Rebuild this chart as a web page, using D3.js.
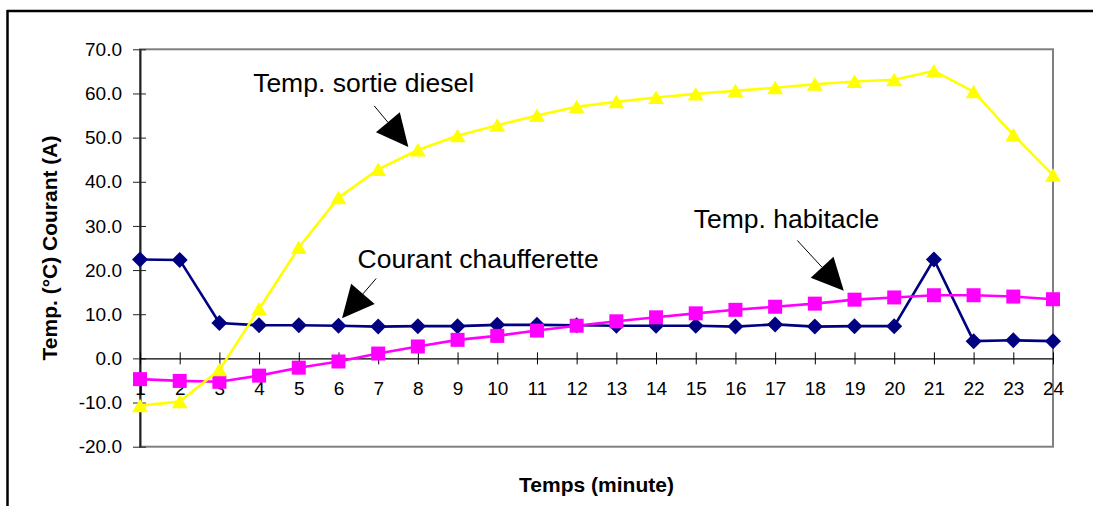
<!DOCTYPE html>
<html>
<head>
<meta charset="utf-8">
<script src="https://cdn.jsdelivr.net/npm/d3@7"></script>
<style>
  body { margin: 0; background: #fff; }
  svg { display: block; font-family: "Liberation Sans", Arial, sans-serif; }
</style>
</head>
<body>
<svg id="canvas" width="1093" height="506"></svg>
<script>
// chart values
let minutes = [1, 2, 3, 4, 5, 6, 7, 8, 9, 10, 11, 12, 13, 14, 15, 16, 17, 18, 19, 20, 21, 22, 23, 24];
let courant = [22.4, 22.3, 8.0, 7.5, 7.5, 7.4, 7.2, 7.3, 7.3, 7.6, 7.6, 7.5, 7.4, 7.4, 7.4, 7.2, 7.7, 7.2, 7.3, 7.3, 22.4, 3.9, 4.1, 3.9];
let habitacle = [-4.7, -5.1, -5.3, -3.9, -2.1, -0.7, 1.1, 2.7, 4.2, 5.1, 6.3, 7.4, 8.4, 9.3, 10.2, 11.0, 11.7, 12.4, 13.3, 13.8, 14.3, 14.3, 14.0, 13.4];
let diesel = [-10.7, -9.8, -2.6, 11.2, 25.1, 36.4, 42.8, 47.2, 50.4, 52.8, 55.0, 57.0, 58.1, 59.1, 59.9, 60.6, 61.3, 62.1, 62.7, 63.1, 65.1, 60.4, 50.6, 41.5];
let yTicks = [-20, -10, 0, 10, 20, 30, 40, 50, 60, 70];

// callouts in data units: label spot, arrow tail, arrow tip
let labels = ["Temp. sortie diesel", "Courant chaufferette", "Temp. habitacle"];
let labelAt = [[3.85, 60.4], [6.48, 20.4], [14.95, 29.5]];
let tailAt = [[6.90, 57.2], [6.95, 18.1], [17.56, 26.7]];
let tipAt = [[7.76, 47.9], [6.09, 9.1], [18.73, 15.3]];

let canvas = d3.select("#canvas");
let plotLeft = 140, plotRight = 1053, plotTop = 49.3, plotBottom = 446.7;

let x = d3.scaleLinear().domain([1, 24]).range([plotLeft, plotRight]);
let y = d3.scaleLinear().domain([-20, 70]).range([plotBottom, plotTop]);

// outer frame (only top and left edges show)
canvas.append("line").attr("x1", 7).attr("x2", 1093).attr("y1", 11).attr("y2", 11)
  .attr("stroke", "#000").attr("stroke-width", 2.5);
canvas.append("line").attr("x1", 7.5).attr("x2", 7.5).attr("y1", 10).attr("y2", 506)
  .attr("stroke", "#000").attr("stroke-width", 2.5);

// plot area border
canvas.append("rect")
  .attr("x", plotLeft).attr("y", plotTop)
  .attr("width", plotRight - plotLeft).attr("height", plotBottom - plotTop)
  .attr("fill", "none").attr("stroke", "#808080").attr("stroke-width", 2);

// y axis
let yAxis = canvas.append("g")
  .attr("transform", "translate(" + plotLeft + ",0)")
  .call(d3.axisLeft(y).tickValues(yTicks).tickSize(7).tickSizeOuter(0).tickPadding(11)
    .tickFormat((d) => d.toFixed(1)));
yAxis.select(".domain").attr("stroke", "#222").attr("stroke-width", 2);
yAxis.selectAll(".tick line").attr("x1", 6).attr("stroke", "#222");
yAxis.selectAll("text").attr("font-size", 19).attr("fill", "#000")
  .attr("font-family", "Liberation Sans, Arial, sans-serif");

// x axis, crossing at zero
let xAxis = canvas.append("g")
  .attr("transform", "translate(0," + y(0) + ")")
  .call(d3.axisBottom(x).tickValues(minutes).tickSize(6).tickSizeOuter(0).tickPadding(17)
    .tickFormat((d) => String(d)));
xAxis.select(".domain").attr("stroke", "#000").attr("stroke-width", 1.3);
xAxis.selectAll(".tick line").attr("y1", -6).attr("stroke", "#000");
xAxis.selectAll("text").attr("font-size", 19).attr("fill", "#000")
  .attr("font-family", "Liberation Sans, Arial, sans-serif");

// axis titles
canvas.append("text")
  .attr("x", (plotLeft + plotRight) / 2).attr("y", 491.5)
  .attr("text-anchor", "middle")
  .attr("font-size", 21).attr("font-weight", "bold")
  .text("Temps (minute)");
canvas.append("text")
  .attr("transform", "translate(57," + (plotTop + plotBottom) / 2 + ") rotate(-90)")
  .attr("text-anchor", "middle")
  .attr("font-size", 21).attr("font-weight", "bold")
  .text("Temp. (°C) Courant (A)");

// marker shapes
let diamond = "M0,-8L8,0L0,8L-8,0Z";
let square = "M-7,-7H7V7H-7Z";
let triangle = "M0,-7L8,6.5H-8Z";

let series = [
  { values: courant, color: "#000080", shape: diamond },
  { values: habitacle, color: "#FF00FF", shape: square },
  { values: diesel, color: "#FFFF00", shape: triangle }
];

let line = d3.line()
  .x((d, i) => x(minutes[i]))
  .y((d) => y(d));

series.forEach((s) => {
  let g = canvas.append("g");
  g.append("path")
    .attr("d", line(s.values))
    .attr("fill", "none")
    .attr("stroke", s.color)
    .attr("stroke-width", 2.6);
  g.selectAll("path.marker")
    .data(s.values)
    .enter()
    .append("path")
    .attr("class", "marker")
    .attr("d", s.shape)
    .attr("transform", (d, i) => "translate(" + x(minutes[i]) + "," + y(d) + ")")
    .attr("fill", s.color);
});

// callouts
labels.forEach((label, i) => {
  canvas.append("text")
    .attr("x", x(labelAt[i][0])).attr("y", y(labelAt[i][1]))
    .attr("font-size", 26.5)
    .attr("fill", "#000")
    .text(label);

  let tx = x(tailAt[i][0]), ty = y(tailAt[i][1]);
  let px = x(tipAt[i][0]), py = y(tipAt[i][1]);
  let len = Math.hypot(px - tx, py - ty);
  let ux = (px - tx) / len, uy = (py - ty) / len;
  let headLen = 32, headHalf = 15.5;
  let bx = px - ux * headLen, by = py - uy * headLen;

  canvas.append("line")
    .attr("x1", tx).attr("y1", ty).attr("x2", bx).attr("y2", by)
    .attr("stroke", "#000").attr("stroke-width", 1);
  canvas.append("path")
    .attr("d", "M" + px + "," + py +
      "L" + (bx - uy * headHalf) + "," + (by + ux * headHalf) +
      "L" + (bx + uy * headHalf) + "," + (by - ux * headHalf) + "Z")
    .attr("fill", "#000");
});
</script>
</body>
</html>
